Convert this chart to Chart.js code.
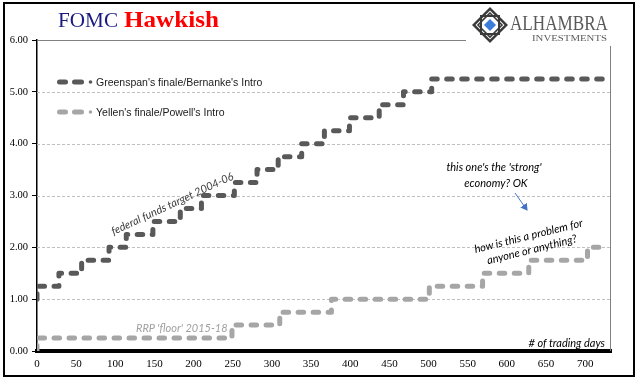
<!DOCTYPE html>
<html>
<head>
<meta charset="utf-8">
<script src="https://cdn.jsdelivr.net/npm/chart.js@4/dist/chart.umd.min.js"></script>
<style>
  html, body { margin: 0; padding: 0; background: #fff; }
  #wrap { position: relative; width: 641px; height: 381px; overflow: hidden; }
  #c { position: absolute; left: 0; top: 0; }
  #ov { position: absolute; left: 0; top: 0; pointer-events: none; }
  #frame { position: absolute; left: 3px; top: 2px; width: 628px; height: 371px; border: 2px solid #000; pointer-events: none; }
</style>
</head>
<body>
<div id="wrap">
  <canvas id="c" width="641" height="381"></canvas>
  <svg id="ov" width="641" height="381" xmlns="http://www.w3.org/2000/svg">
    <!-- title -->
    <text x="58" y="27" font-family="Liberation Serif, Times New Roman, serif" font-size="22" fill="#1a1a80" textLength="60" lengthAdjust="spacingAndGlyphs">FOMC</text>
    <text x="124" y="27" font-family="Liberation Serif, Times New Roman, serif" font-size="23" font-weight="bold" fill="#ff0000" textLength="95" lengthAdjust="spacingAndGlyphs">Hawkish</text>

    <!-- logo -->
    <rect x="466" y="0" width="175" height="46" fill="#fff"/>
    <g>
      <polygon points="490,7 508,25 490,43 472,25" fill="#3a3a3a"/>
      <polygon points="490,10.5 504.5,25 490,39.5 475.5,25" fill="#fff"/>
      <rect x="481" y="16" width="18" height="18" fill="none" stroke="#3a3a3a" stroke-width="2"/>
      <polygon points="490,13 502,25 490,37 478,25" fill="none" stroke="#3a3a3a" stroke-width="1.6"/>
      <polygon points="490,19 496,25 490,31 484,25" fill="#3b7dd8"/>
    </g>
    <text x="510" y="30" font-family="Liberation Serif, Times New Roman, serif" font-size="21" fill="#595959" textLength="98" lengthAdjust="spacingAndGlyphs">ALHAMBRA</text>
    <text x="532" y="41" font-family="Liberation Serif, Times New Roman, serif" font-size="9" fill="#595959" textLength="75" lengthAdjust="spacingAndGlyphs">INVESTMENTS</text>

    <!-- legend -->
    <g stroke-linecap="round">
      <line x1="59.5" y1="82" x2="65.5" y2="82" stroke="#595959" stroke-width="5"/>
      <line x1="74.5" y1="82" x2="81.5" y2="82" stroke="#595959" stroke-width="5"/>
      <circle cx="90.5" cy="82" r="1.8" fill="#595959"/>
      <line x1="59.5" y1="112" x2="65.5" y2="112" stroke="#a6a6a6" stroke-width="5"/>
      <line x1="74.5" y1="112" x2="81.5" y2="112" stroke="#a6a6a6" stroke-width="5"/>
      <circle cx="90.5" cy="112" r="1.8" fill="#a6a6a6"/>
    </g>
    <text x="96" y="86" font-family="Liberation Sans, Arial, sans-serif" font-size="10.5" fill="#1a1a1a">Greenspan's finale/Bernanke's Intro</text>
    <text x="96" y="116" font-family="Liberation Sans, Arial, sans-serif" font-size="10.5" fill="#1a1a1a">Yellen's finale/Powell's Intro</text>

    <!-- annotations -->
    <g font-family="Lato, Open Sans, sans-serif" font-style="italic" font-size="11">
      <text x="172" y="203" text-anchor="middle" dominant-baseline="central" fill="#404040" transform="rotate(-25 172 203)">federal funds target 2004-06</text>
      <text x="136" y="327" dominant-baseline="central" fill="#a0a0a0">RRP 'floor' 2015-18</text>
      <text x="494" y="166" text-anchor="middle" dominant-baseline="central" fill="#000">this one's the 'strong'</text>
      <text x="496" y="182" text-anchor="middle" dominant-baseline="central" fill="#000">economy? OK</text>
      <g transform="translate(530 242) rotate(-14)">
        <text x="0" y="-7" text-anchor="middle" dominant-baseline="central" fill="#000">how is this a problem for</text>
        <text x="0" y="7" text-anchor="middle" dominant-baseline="central" fill="#000">anyone or anything?</text>
      </g>
      <text x="605" y="342" text-anchor="end" dominant-baseline="central" fill="#000"># of trading days</text>
    </g>

    <!-- arrow -->
    <defs>
      <marker id="ah" markerWidth="8" markerHeight="8" refX="6" refY="4" orient="auto" markerUnits="userSpaceOnUse">
        <path d="M0,0 L7,4 L0,8 z" fill="#4472c4"/>
      </marker>
    </defs>
    <line x1="515" y1="193" x2="527" y2="210" stroke="#4472c4" stroke-width="1" marker-end="url(#ah)"/>
  </svg>
  <div id="frame"></div>
</div>
<script>
// ---- data ----
const greenspanDays  = [0, 0, 28, 57, 92, 114, 148, 183, 210, 252, 281, 308, 338, 367, 399, 437, 468, 504, 727];
const greenspanRates = [1.00, 1.25, 1.50, 1.75, 2.00, 2.25, 2.50, 2.75, 3.00, 3.25, 3.50, 3.75, 4.00, 4.25, 4.50, 4.75, 5.00, 5.25, 5.25];
const yellenDays     = [0, 0, 249, 310, 376, 501, 569, 628, 703, 727];
const yellenRates    = [0.00, 0.25, 0.50, 0.75, 1.00, 1.25, 1.50, 1.75, 2.00, 2.00];
const xTickValues    = [0, 50, 100, 150, 200, 250, 300, 350, 400, 450, 500, 550, 600, 650, 700];
const yTickValues    = [0, 1, 2, 3, 4, 5, 6];
const seriesNames    = ["Greenspan's finale/Bernanke's Intro", "Yellen's finale/Powell's Intro"];

const toPts = (xs, ys) => xs.map((x, i) => ({ x: x, y: ys[i] }));

const framePlugin = {
  id: 'frameGrid',
  beforeDatasetsDraw(chart) {
    const { ctx, chartArea: a, scales } = chart;
    const y = scales.y;
    ctx.save();
    ctx.lineWidth = 1;
    ctx.strokeStyle = '#c0c0c0';
    ctx.setLineDash([3, 2]);
    [1, 2, 3, 4, 5].forEach(v => {
      const py = Math.round(y.getPixelForValue(v)) + 0.5;
      ctx.beginPath(); ctx.moveTo(a.left, py); ctx.lineTo(a.right, py); ctx.stroke();
    });
    ctx.setLineDash([]);
    ctx.strokeStyle = '#808080';
    const top = Math.round(y.getPixelForValue(6)) + 0.5;
    ctx.beginPath(); ctx.moveTo(a.left, top); ctx.lineTo(a.right, top); ctx.stroke();
    ctx.beginPath(); ctx.moveTo(a.right - 0.5, a.top); ctx.lineTo(a.right - 0.5, a.bottom); ctx.stroke();
    ctx.restore();
  }
};

new Chart(document.getElementById('c'), {
  type: 'line',
  data: {
    datasets: [
      {
        label: seriesNames[0],
        data: toPts(greenspanDays, greenspanRates),
        stepped: true,
        borderColor: '#595959',
        borderWidth: 5,
        borderDash: [5.5, 9.5],
        borderCapStyle: 'round',
        borderJoinStyle: 'round',
        pointRadius: 0,
        fill: false
      },
      {
        label: seriesNames[1],
        data: toPts(yellenDays, yellenRates),
        stepped: true,
        borderColor: '#a6a6a6',
        borderWidth: 5,
        borderDash: [5.5, 9.5],
        borderCapStyle: 'round',
        borderJoinStyle: 'round',
        pointRadius: 0,
        fill: false
      }
    ]
  },
  options: {
    responsive: false,
    animation: false,
    events: [],
    layout: { padding: { top: 40, right: 30, left: 0, bottom: 0 } },
    plugins: { legend: { display: false }, tooltip: { enabled: false } },
    scales: {
      x: {
        type: 'linear',
        min: 0,
        max: 733,
        afterFit(s) { s.height = 30; },
        afterBuildTicks(s) { s.ticks = xTickValues.map(v => ({ value: v })); },
        grid: { display: false, drawTicks: false },
        border: { display: true, color: '#000', width: 4 },
        ticks: {
          padding: 7,
          maxRotation: 0,
          autoSkip: false,
          color: '#000',
          font: { family: 'Liberation Serif, Times New Roman, serif', size: 11 },
          callback: v => String(v)
        }
      },
      y: {
        min: 0,
        max: 6,
        afterFit(s) { s.width = 37; },
        afterBuildTicks(s) { s.ticks = yTickValues.map(v => ({ value: v })); },
        grid: { drawOnChartArea: false, drawTicks: true, tickLength: 5, color: '#000', lineWidth: 1 },
        border: { display: true, color: '#000', width: 1.5 },
        ticks: {
          padding: 4,
          color: '#000',
          font: { family: 'Liberation Serif, Times New Roman, serif', size: 10.5 },
          callback: v => Number(v).toFixed(2)
        }
      }
    }
  },
  plugins: [framePlugin]
});
</script>
</body>
</html>
